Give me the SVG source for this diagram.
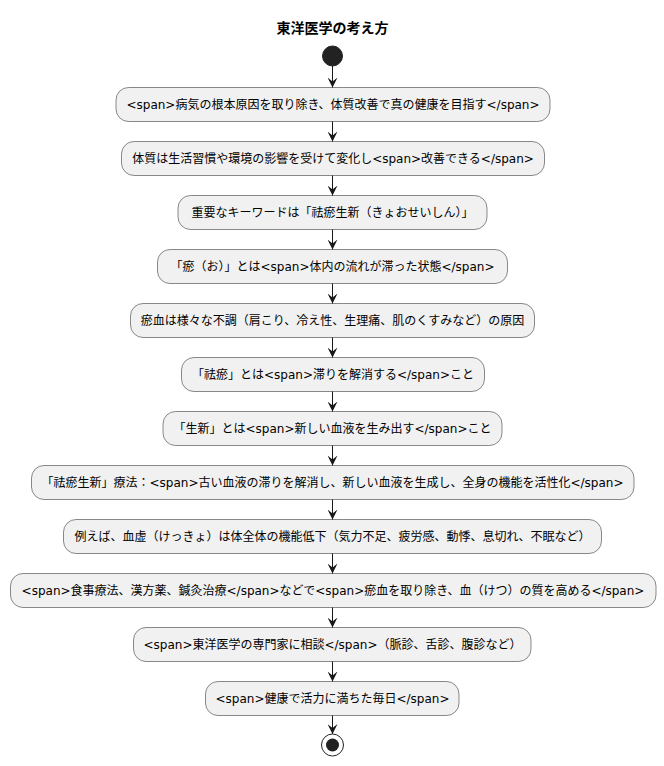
<svg xmlns="http://www.w3.org/2000/svg" width="664" height="766" viewBox="0 0 664 766">
<style>
.bg{fill:#FFFFFF}
.act rect{fill:#F1F1F1;stroke:#181818;stroke-width:0.5}
.act text{font-family:"DejaVu Sans","Noto Sans CJK JP",sans-serif;font-size:12px;fill:#000000;text-anchor:middle}
.title{font-family:"DejaVu Sans","Noto Sans CJK JP",sans-serif;font-size:14px;font-weight:bold;fill:#000000;text-anchor:middle}
#connectors line{stroke:#181818;stroke-width:1;marker-end:url(#arrow)}
</style>
<defs>
<marker id="arrow" markerUnits="userSpaceOnUse" markerWidth="10" markerHeight="10" refX="10" refY="5" orient="auto" viewBox="0 0 10 10">
<path d="M0,0 L10,5 L0,10 L4,5 Z" fill="#181818"/>
</marker>
</defs>
<rect class="bg" x="0" y="0" width="664" height="766"/>
<text id="title" class="title" x="332.5" y="33">東洋医学の考え方</text>
<g id="start"><circle cx="332.5" cy="56" r="10" fill="#222222" stroke="#222222"/></g>
<g id="n1" class="act"><rect x="116" y="87.5" width="434" height="34" rx="12.5"/><text x="333" y="109">&lt;span&gt;病気の根本原因を取り除き、体質改善で真の健康を目指す&lt;/span&gt;</text></g>
<g id="n2" class="act"><rect x="121.5" y="141.5" width="423" height="34" rx="12.5"/><text x="333" y="163">体質は生活習慣や環境の影響を受けて変化し&lt;span&gt;改善できる&lt;/span&gt;</text></g>
<g id="n3" class="act"><rect x="178" y="195.5" width="309" height="34" rx="12.5"/><text x="332.5" y="217">重要なキーワードは「祛瘀生新（きょおせいしん）」</text></g>
<g id="n4" class="act"><rect x="157.5" y="249.5" width="350" height="34" rx="12.5"/><text x="332.5" y="271">「瘀（お）」とは&lt;span&gt;体内の流れが滞った状態&lt;/span&gt;</text></g>
<g id="n5" class="act"><rect x="130.5" y="303.5" width="404" height="34" rx="12.5"/><text x="332.5" y="325">瘀血は様々な不調（肩こり、冷え性、生理痛、肌のくすみなど）の原因</text></g>
<g id="n6" class="act"><rect x="181.5" y="357.5" width="303" height="34" rx="12.5"/><text x="333" y="379">「祛瘀」とは&lt;span&gt;滞りを解消する&lt;/span&gt;こと</text></g>
<g id="n7" class="act"><rect x="163" y="411.5" width="339" height="34" rx="12.5"/><text x="332.5" y="433">「生新」とは&lt;span&gt;新しい血液を生み出す&lt;/span&gt;こと</text></g>
<g id="n8" class="act"><rect x="31.5" y="465.5" width="602.5" height="34" rx="12.5"/><text x="332.5" y="487">「祛瘀生新」療法：&lt;span&gt;古い血液の滞りを解消し、新しい血液を生成し、全身の機能を活性化&lt;/span&gt;</text></g>
<g id="n9" class="act"><rect x="63.5" y="519.5" width="538" height="34" rx="12.5"/><text x="332.5" y="541">例えば、血虚（けっきょ）は体全体の機能低下（気力不足、疲労感、動悸、息切れ、不眠など）</text></g>
<g id="n10" class="act"><rect x="10.5" y="573.5" width="645.5" height="34" rx="12.5"/><text x="333" y="595">&lt;span&gt;食事療法、漢方薬、鍼灸治療&lt;/span&gt;などで&lt;span&gt;瘀血を取り除き、血（けつ）の質を高める&lt;/span&gt;</text></g>
<g id="n11" class="act"><rect x="133.5" y="627.5" width="397.5" height="34" rx="12.5"/><text x="332.5" y="649">&lt;span&gt;東洋医学の専門家に相談&lt;/span&gt;（脈診、舌診、腹診など）</text></g>
<g id="n12" class="act"><rect x="205.5" y="681.5" width="253.5" height="34" rx="12.5"/><text x="332.5" y="703">&lt;span&gt;健康で活力に満ちた毎日&lt;/span&gt;</text></g>
<g id="end"><circle cx="332.5" cy="745" r="11" fill="none" stroke="#222222" stroke-width="1"/><circle cx="332.5" cy="745" r="6.5" fill="#222222"/></g>
<g id="connectors">
<line x1="332.5" y1="66" x2="332.5" y2="87.5"/>
<line x1="332.5" y1="121.5" x2="332.5" y2="141.5"/>
<line x1="332.5" y1="175.5" x2="332.5" y2="195.5"/>
<line x1="332.5" y1="229.5" x2="332.5" y2="249.5"/>
<line x1="332.5" y1="283.5" x2="332.5" y2="303.5"/>
<line x1="332.5" y1="337.5" x2="332.5" y2="357.5"/>
<line x1="332.5" y1="391.5" x2="332.5" y2="411.5"/>
<line x1="332.5" y1="445.5" x2="332.5" y2="465.5"/>
<line x1="332.5" y1="499.5" x2="332.5" y2="519.5"/>
<line x1="332.5" y1="553.5" x2="332.5" y2="573.5"/>
<line x1="332.5" y1="607.5" x2="332.5" y2="627.5"/>
<line x1="332.5" y1="661.5" x2="332.5" y2="681.5"/>
<line x1="332.5" y1="715.5" x2="332.5" y2="734"/>
</g>
</svg>
